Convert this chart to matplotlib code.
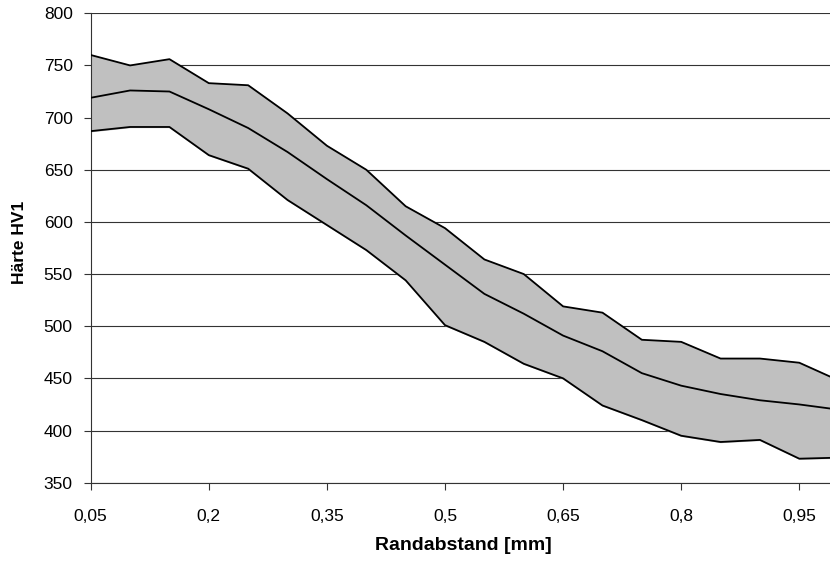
import numpy as np
import matplotlib.pyplot as plt

plt.rcParams['font.family'] = ['Liberation Sans', 'DejaVu Sans']

# Randabstand in mm
abstand = [0.05, 0.10, 0.15, 0.20, 0.25, 0.30, 0.35, 0.40, 0.45, 0.50,
           0.55, 0.60, 0.65, 0.70, 0.75, 0.80, 0.85, 0.90, 0.95, 1.00]
# Haerte HV1: obere Grenze, Mittelwert, untere Grenze
hv_max = [760, 750, 756, 733, 731, 704, 673, 650, 615, 594,
          564, 550, 519, 513, 487, 485, 469, 469, 465, 448]
hv_mean = [719, 726, 725, 708, 690, 667, 641, 616, 587, 559,
           531, 512, 491, 476, 455, 443, 435, 429, 425, 420]
hv_min = [687, 691, 691, 664, 651, 621, 597, 573, 544, 501,
          485, 464, 450, 424, 410, 395, 389, 391, 373, 374]

xticks = [0.05, 0.2, 0.35, 0.5, 0.65, 0.8, 0.95]
xticklabels = ['0,05', '0,2', '0,35', '0,5', '0,65', '0,8', '0,95']
yticks = np.arange(350, 801, 50)

fig = plt.figure(figsize=(8.3, 5.65), dpi=100)
ax = fig.add_axes([0.1093, 0.1457, 0.8907, 0.8308])

ax.fill_between(abstand, hv_min, hv_max, color='#c0c0c0', zorder=2)
for serie in (hv_max, hv_mean, hv_min):
    ax.plot(abstand, serie, color='black', lw=1.3, zorder=3)

ax.set_xlim(0.05, 0.989)
ax.set_ylim(350, 800)
ax.set_xticks(xticks)
ax.set_xticklabels(xticklabels)
ax.set_yticks(yticks)
ax.yaxis.grid(True, color='#333333', lw=0.8, zorder=1)
ax.set_axisbelow(True)

ax.spines['top'].set_visible(False)
ax.spines['right'].set_visible(False)
ax.spines['left'].set_color('#333333')
ax.spines['bottom'].set_color('#333333')
ax.tick_params(direction='out', length=5, width=0.8, color='#333333',
               labelsize=12.5, pad=8)
ax.tick_params(axis='x', pad=14)

# Achsentitel
fig.text(463 / 830, 1 - 545.5 / 565, 'Randabstand [mm]', fontsize=14,
         fontweight='bold', ha='center', va='center')
fig.text(20 / 830, 1 - 242 / 565, 'Härte HV1', fontsize=12.5,
         fontweight='bold', ha='center', va='center', rotation=90)

fig.savefig('out.png', dpi=100)
